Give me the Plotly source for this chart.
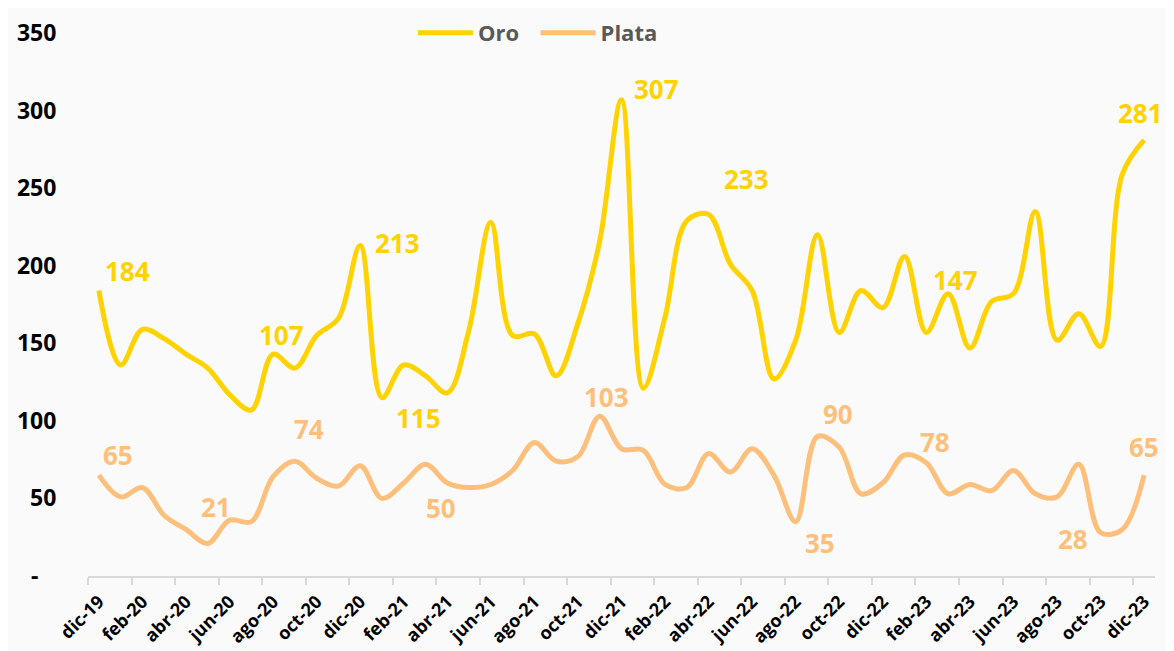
import plotly.graph_objects as go

months = ["ene", "feb", "mar", "abr", "may", "jun", "jul", "ago", "sep", "oct", "nov", "dic"]
categories = ["dic-19"] + [f"{m}-{y}" for y in ["20", "21", "22", "23"] for m in months]

oro = [184, 136, 159, 153, 143, 134, 117, 107, 143, 134, 155, 166, 213,
       115, 136, 129, 118, 159, 228, 155, 156, 129, 163, 216, 307,
       121, 167, 229, 233, 201, 184, 127, 152, 220, 157, 184, 173,
       206, 157, 182, 147, 177, 182, 235, 152, 169, 148, 259, 281]

plata = [65, 51, 57, 39, 30, 21, 36, 35, 64, 74, 63, 58, 71,
         50, 60, 72, 60, 57, 59, 68, 86, 74, 77, 103, 82,
         81, 59, 57, 79, 67, 82, 65, 35, 90, 83, 53, 60,
         78, 73, 53, 59, 55, 68, 53, 51, 72, 28, 30, 65]

y_ticks = [0, 50, 100, 150, 200, 250, 300, 350]
y_ticktext = ["-\u00a0\u00a0\u00a0"] + [str(v) for v in y_ticks[1:]]

# labelled points: (category, x pixel shift, y pixel shift)
labels_oro = [("dic-19", 29, 20), ("jul-20", 30, 75), ("dic-20", 37, 3), ("ene-21", 37, -20),
              ("dic-21", 35, 11), ("abr-22", 38, 36), ("abr-23", -14, 68), ("dic-23", -4, 27)]
labels_plata = [("dic-19", 19, 20), ("may-20", 8, 36), ("sep-20", 14, 32), ("ene-21", 59, -10),
                ("nov-21", 7, 19), ("ago-22", 24, -21), ("sep-22", 21, 22), ("ene-23", 30, 13),
                ("oct-23", -28, -6), ("dic-23", 0, 28)]

GOLD = "#FFD200"
SILVER = "#FDC07C"
FONT = "Open Sans"

fig = go.Figure()
fig.add_trace(go.Scatter(x=categories, y=oro, name="Oro\u00a0\u00a0", mode="lines",
                         line=dict(color=GOLD, width=5, shape="spline", smoothing=1.0)))
fig.add_trace(go.Scatter(x=categories, y=plata, name="Plata", mode="lines",
                         line=dict(color=SILVER, width=5, shape="spline", smoothing=1.0)))

annotations = []
for series, color, specs in [(oro, GOLD, labels_oro), (plata, SILVER, labels_plata)]:
    for cat, dx, dy in specs:
        i = categories.index(cat)
        annotations.append(dict(x=cat, y=series[i], xref="x", yref="y", text=str(series[i]),
                                showarrow=False, xshift=dx, yshift=dy,
                                font=dict(family=FONT, size=26, color=color, weight="bold")))

# page body adds an 8px offset
W, H = 1166, 643
L, R, T, B = 80, 19, 25, 75
pw, ph = W - L - R, H - T - B

fig.update_layout(
    width=W, height=H,
    margin=dict(l=L, r=R, t=T, b=B, autoexpand=False),
    paper_bgcolor="#FAFAFA", plot_bgcolor="#FAFAFA",
    showlegend=True,
    legend=dict(orientation="h", x=(530 - L) / pw, xanchor="center", y=1.0, yanchor="middle",
                bgcolor="rgba(0,0,0,0)", itemwidth=55, traceorder="normal",
                font=dict(family=FONT, size=22, color="#595959", weight="bold")),
    annotations=annotations,
)

fig.update_xaxes(type="category", range=[-0.5, len(categories) - 0.5],
                 tickmode="linear", dtick=2, tickson="boundaries",
                 ticks="outside", ticklen=7, tickwidth=2, tickcolor="#D9D9D9",
                 showline=True, linecolor="#D9D9D9", linewidth=2,
                 showgrid=False, zeroline=False, tickangle=-45, ticklabelstandoff=6,
                 tickfont=dict(family=FONT, size=18, color="black", weight="bold"))
fig.update_yaxes(range=[0, 350], tickvals=y_ticks, ticktext=y_ticktext,
                 showgrid=False, zeroline=False, showline=False,
                 ticks="outside", ticklen=26, tickcolor="rgba(0,0,0,0)",
                 tickfont=dict(family=FONT, size=23, color="black", weight="bold"))

fig.write_html("out.html")
